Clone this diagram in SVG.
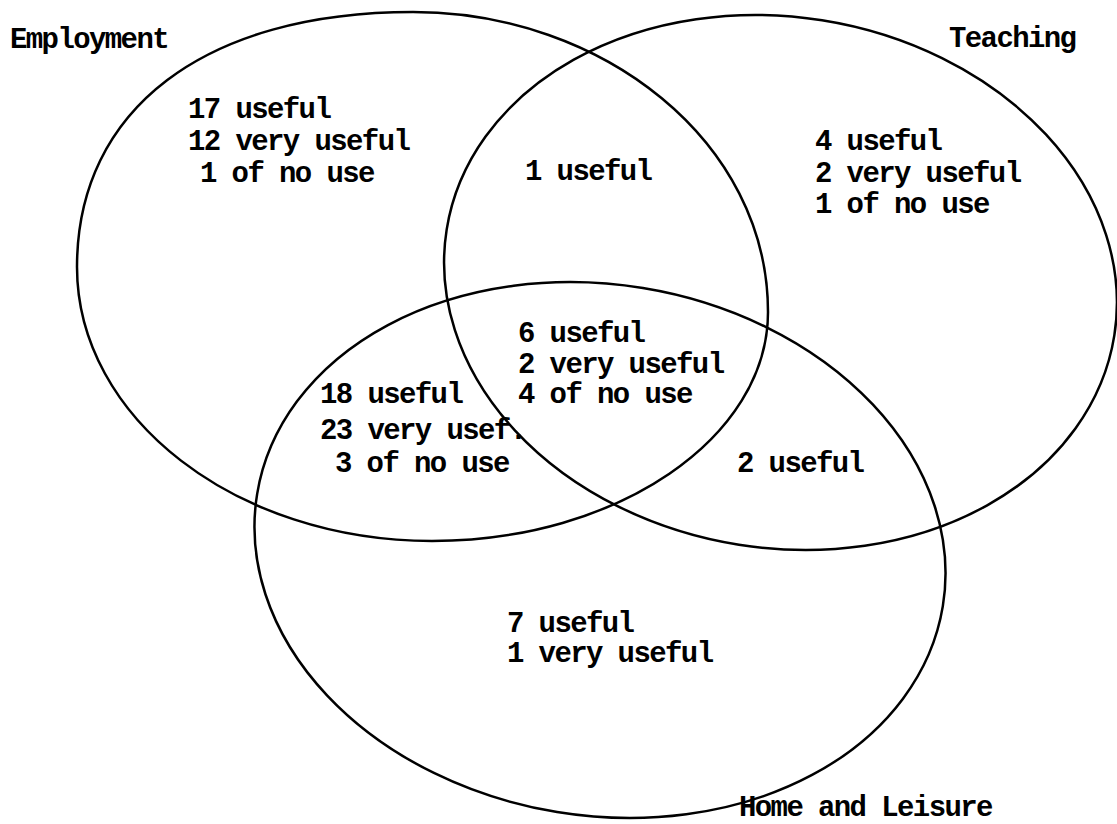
<svg xmlns="http://www.w3.org/2000/svg" width="1117" height="824" viewBox="0 0 1117 824">
<style>
.ring{fill:none;stroke:#000;stroke-width:2.5;stroke-linejoin:round}
.t{font-family:"Liberation Mono","Courier New",monospace;font-size:29px;font-weight:700;letter-spacing:-1.6px;fill:#000}
</style>
<rect width="1117" height="824" fill="#fff"/>
<g id="set-employment">
<path class="ring" d="M413,12 C603,12 768,142 768,312 C768,438 617,541 432,541 C236,541 77,418 77,267 C77,109 205,12 413,12 Z"/>
<text class="t" x="10" y="48">Employment</text>
</g>
<g id="set-teaching">
<ellipse class="ring" cx="780.5" cy="282.5" rx="338" ry="265.5" transform="rotate(9 780.5 282.5)"/>
<text class="t" x="949" y="47">Teaching</text>
</g>
<g id="set-home">
<ellipse class="ring" cx="600" cy="550" rx="347.4" ry="265.5" transform="rotate(9.3 600 550)"/>
<text class="t" x="739" y="816">Home and Leisure</text>
</g>
<g id="region-employment-only">
<text class="t"><tspan x="188" y="118">17 useful</tspan><tspan x="188" y="150">12 very useful</tspan><tspan x="200" y="182">1 of no use</tspan></text>
</g>
<g id="region-employment-teaching">
<text class="t" x="525" y="180">1 useful</text>
</g>
<g id="region-teaching-only">
<text class="t"><tspan x="815" y="150">4 useful</tspan><tspan x="815" y="182">2 very useful</tspan><tspan x="815" y="213">1 of no use</tspan></text>
</g>
<g id="region-all-three">
<text class="t"><tspan x="518" y="342">6 useful</tspan><tspan x="518" y="373">2 very useful</tspan><tspan x="518" y="403">4 of no use</tspan></text>
</g>
<g id="region-employment-home">
<text class="t"><tspan x="320" y="403">18 useful</tspan><tspan x="320" y="439">23 very usef.</tspan><tspan x="335" y="472">3 of no use</tspan></text>
</g>
<g id="region-teaching-home">
<text class="t" x="737" y="472">2 useful</text>
</g>
<g id="region-home-only">
<text class="t"><tspan x="507" y="632">7 useful</tspan><tspan x="507" y="662">1 very useful</tspan></text>
</g>
</svg>
